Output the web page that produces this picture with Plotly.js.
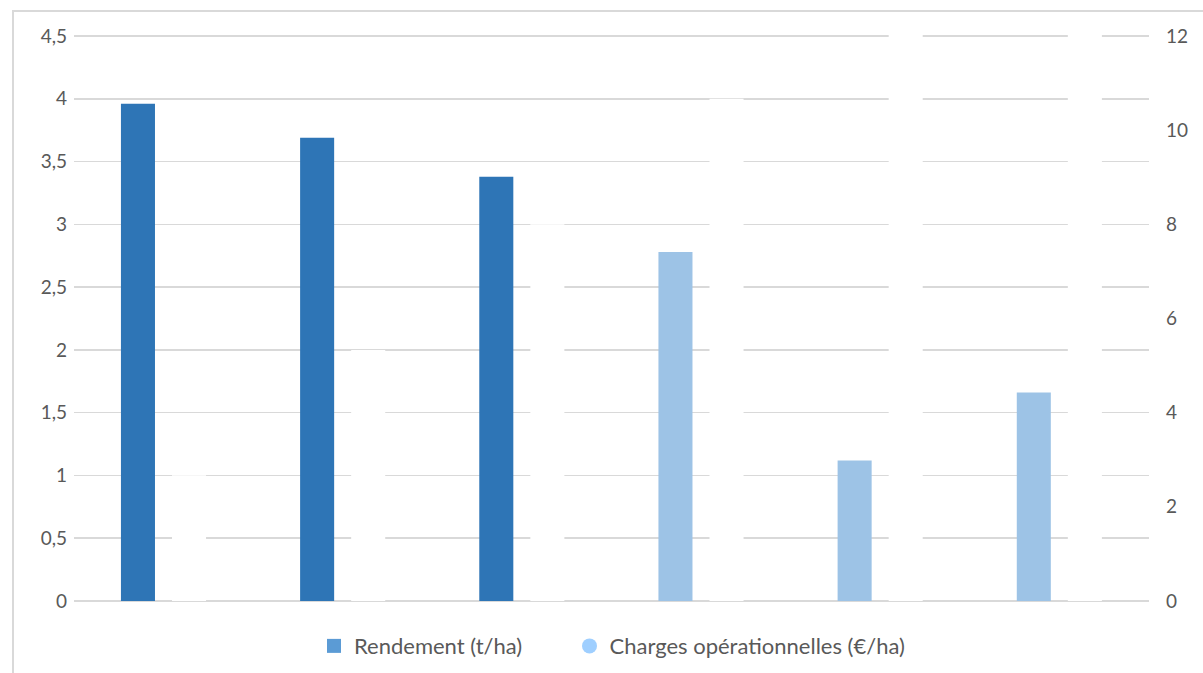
<!DOCTYPE html>
<html>
<head>
<meta charset="utf-8">
<script src="https://cdn.plot.ly/plotly-3.0.1.min.js"></script>
<style>
  html, body { margin: 0; padding: 0; background: #fff; overflow: hidden; }
  #frame { position: absolute; left: 12px; top: 10px; width: 1200px; height: 670px; border: 2px solid #D9D9D9; box-sizing: border-box; }
  #chart { position: absolute; left: 0; top: 0; width: 1203px; height: 673px; }
</style>
</head>
<body>
<div id="frame"></div>
<div id="chart"></div>
<script>
// Categories (unlabelled in the reference)
const categories = [0, 1, 2, 3, 4, 5];
// Rendement (t/ha) – dark blue bars, left axis
const rendement = [3.96, 3.69, 3.38, null, null, null];
// Charges opérationnelles – light blue bars, left axis
const charges = [null, null, null, 2.78, 1.12, 1.66];
// Hidden (white) series on secondary axis
const secondaire = [2.67, 5.33, 8, 10.67, 13, 13];

const seriesNames = ["Rendement (t/ha)", "Charges opérationnelles (€/ha)"];

const BW = 0.19;
const traces = [
  { type: "bar", x: categories, y: rendement, yaxis: "y", width: BW, offset: -0.238,
    marker: { color: "#2E75B6" }, showlegend: false, hoverinfo: "skip" },
  { type: "bar", x: categories, y: charges, yaxis: "y", width: BW, offset: -0.238,
    marker: { color: "#9DC3E6" }, showlegend: false, hoverinfo: "skip" },
  { type: "bar", x: categories, y: secondaire, yaxis: "y2", width: BW, offset: 0.047,
    marker: { color: "#FFFFFF" }, showlegend: false, hoverinfo: "skip" },
  { type: "scatter", mode: "markers", x: [null], y: [null], name: seriesNames[0], legend: "legend",
    marker: { symbol: "square", color: "#5B9BD5", size: 14 } },
  { type: "scatter", mode: "markers", x: [null], y: [null], name: seriesNames[1], legend: "legend2",
    marker: { symbol: "circle", color: "#9FCFFF", size: 15 } }
];

const TOP = 4.516;
const legendCommon = {
  orientation: "h", xref: "container", xanchor: "left",
  yref: "container", y: 0.04, yanchor: "middle",
  font: { size: 22, color: "#595959" }, itemwidth: 30,
  bgcolor: "rgba(0,0,0,0)"
};
const layout = {
  width: 1203, height: 673,
  margin: { l: 74, r: 54, t: 34, b: 72, autoexpand: false },
  paper_bgcolor: "rgba(0,0,0,0)",
  plot_bgcolor: "rgba(0,0,0,0)",
  separators: ", ",
  font: { family: "Lato, Carlito, sans-serif", size: 19, color: "#595959" },
  barmode: "overlay",
  xaxis: { range: [-0.5, 5.5], showticklabels: false, showgrid: false, zeroline: false, showline: false, ticks: "" },
  yaxis: {
    range: [0, TOP], dtick: 0.5, tick0: 0,
    showgrid: true, gridcolor: "#D9D9D9", gridwidth: 1.5,
    zeroline: true, zerolinecolor: "#D9D9D9", zerolinewidth: 1.5,
    showline: false, ticks: "", ticklabelstandoff: 6,
    tickfont: { size: 19, color: "#595959" }
  },
  yaxis2: {
    range: [0, 12 * TOP / 4.5], dtick: 2, tick0: 0,
    overlaying: "y", side: "right",
    showgrid: false, zeroline: false, showline: false, ticks: "",
    ticklabelstandoff: 16,
    tickfont: { size: 19, color: "#595959" }
  },
  showlegend: true,
  legend: Object.assign({}, legendCommon, { x: 314 / 1203 }),
  legend2: Object.assign({}, legendCommon, { x: 569.5 / 1203 })
};

Plotly.newPlot("chart", traces, layout, { displayModeBar: false, staticPlot: true });
</script>
</body>
</html>
